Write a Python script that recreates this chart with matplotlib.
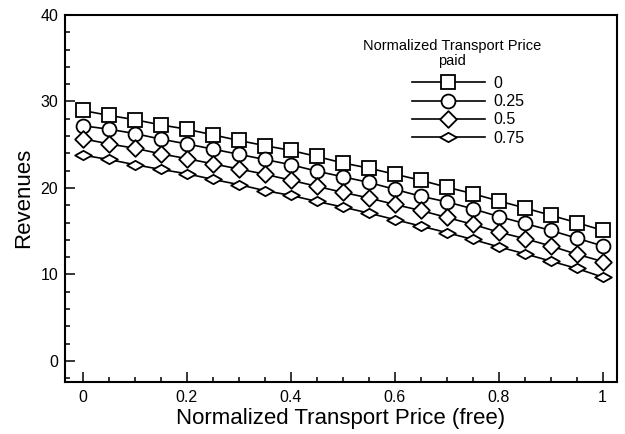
import matplotlib
matplotlib.use("Agg")
import matplotlib.pyplot as plt
from matplotlib.path import Path
from matplotlib.ticker import MultipleLocator

plt.rcParams['font.family'] = ['Liberation Sans', 'DejaVu Sans']

x_free = [0, 0.05, 0.1, 0.15, 0.2, 0.25, 0.3, 0.35, 0.4, 0.45, 0.5,
          0.55, 0.6, 0.65, 0.7, 0.75, 0.8, 0.85, 0.9, 0.95, 1.0]
paid_labels = ["0", "0.25", "0.5", "0.75"]
rev_0 = [28.96, 28.4, 27.9, 27.3, 26.8, 26.15, 25.5, 24.9, 24.35, 23.65, 22.9,
         22.3, 21.6, 20.9, 20.1, 19.35, 18.5, 17.7, 16.85, 16.0, 15.1]
rev_025 = [27.2, 26.8, 26.3, 25.65, 25.1, 24.5, 23.9, 23.3, 22.7, 21.95, 21.3,
           20.65, 19.85, 19.05, 18.4, 17.6, 16.7, 15.9, 15.1, 14.2, 13.3]
rev_05 = [25.7, 25.1, 24.6, 23.95, 23.4, 22.8, 22.2, 21.6, 20.9, 20.2, 19.5,
          18.85, 18.1, 17.4, 16.6, 15.8, 14.9, 14.15, 13.3, 12.35, 11.5]
rev_075 = [23.8, 23.3, 22.7, 22.15, 21.65, 21.0, 20.4, 19.7, 19.15, 18.45, 17.8,
           17.1, 16.35, 15.6, 14.85, 14.05, 13.2, 12.4, 11.55, 10.7, 9.7]
series = [rev_0, rev_025, rev_05, rev_075]

diamond = Path([(-1, 0), (0, 1), (1, 0), (0, -1), (-1, 0)],
               [Path.MOVETO, Path.LINETO, Path.LINETO, Path.LINETO, Path.CLOSEPOLY])
flat_diamond = Path([(-1, 0), (0, 0.56), (1, 0), (0, -0.56), (-1, 0)],
                    [Path.MOVETO, Path.LINETO, Path.LINETO, Path.LINETO, Path.CLOSEPOLY])
markers = ['s', 'o', diamond, flat_diamond]
msizes = [10, 10, 12, 12]

W, H = 625, 434
fig = plt.figure(figsize=(W / 100, H / 100), dpi=100)
L, R, T, B = 65, 616.7, 15, 381.5
ax = fig.add_axes([L / W, 1 - B / H, (R - L) / W, (B - T) / H])

for ys, lab, mk, ms in zip(series, paid_labels, markers, msizes):
    ax.plot(x_free, ys, color='black', lw=1.2, marker=mk, ms=ms,
            mfc='white', mec='black', mew=1.3, label=lab)

ax.set_xlim(-0.034, 1.027)
ax.set_ylim(-2.37, 40)
ax.xaxis.set_major_locator(MultipleLocator(0.2))
ax.xaxis.set_minor_locator(MultipleLocator(0.05))
ax.yaxis.set_major_locator(MultipleLocator(10))
ax.yaxis.set_minor_locator(MultipleLocator(2))
ax.set_xticks([0, 0.2, 0.4, 0.6, 0.8, 1.0])
ax.set_xticklabels(["0", "0.2", "0.4", "0.6", "0.8", "1"])
ax.tick_params(which='both', direction='in', width=1.1, labelsize=11.5)
ax.tick_params(which='major', length=7.2)
ax.tick_params(which='minor', length=3.6)
ax.tick_params(axis='x', pad=6)
ax.tick_params(axis='y', pad=5)
for sp in ax.spines.values():
    sp.set_linewidth(1.5)

ax.set_xlabel("Normalized Transport Price (free)", fontsize=16, labelpad=2)
ax.set_ylabel("Revenues", fontsize=16, labelpad=4)

fig.text(452 / W, 1 - 46 / H, "Normalized Transport Price", ha='center',
         va='center', fontsize=10.5)
fig.text(452 / W, 1 - 61 / H, "paid", ha='center', va='center', fontsize=10.5)

leg = ax.legend(loc='upper left', bbox_to_anchor=((411.7 - L) / (R - L), 1 - (76 - T) / (B - T)),
                frameon=False, fontsize=11.5, handlelength=4.6, handletextpad=0.5,
                labelspacing=0.2, borderpad=0, borderaxespad=0)

fig.savefig("out.png", dpi=100)
